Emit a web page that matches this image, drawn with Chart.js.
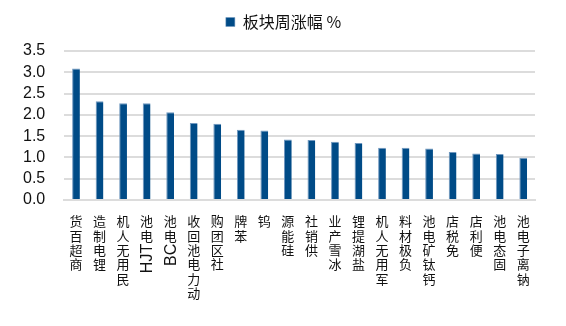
<!DOCTYPE html>
<html lang="zh">
<head>
<meta charset="UTF-8">
<title>板块周涨幅</title>
<script src="https://cdn.jsdelivr.net/npm/chart.js@4.4.1/dist/chart.umd.min.js"></script>
<style>
  html, body { margin: 0; padding: 0; background: #fff; }
  #wrap { width: 566px; height: 326px; }
</style>
</head>
<body>
<div id="wrap"><canvas id="chart" width="566" height="326"></canvas></div>
<script>
// weekly gain by sector, %
const categories = ['商超百货', '锂电制造', '民用无人机', 'HJT电池', 'BC电池', '动力电池回收', '社区团购', '苯牌', '钨', '硅能源',
                    '供销社', '冰雪产业', '盐湖提锂', '军用无人机', '负极材料', '钙钛矿电池', '免税店', '便利店', '固态电池', '钠离子电池'];
const weeklyGain = [3.09, 2.32, 2.27, 2.27, 2.06, 1.81, 1.79, 1.65, 1.63, 1.42,
                    1.41, 1.37, 1.34, 1.23, 1.23, 1.21, 1.13, 1.09, 1.08, 0.99];
const seriesName = '板块周涨幅 %';
const yMin = 0, yMax = 3.5, yStep = 0.5;

const NAVY = '#004b87';
const GRID = '#dcdcdc';

// extra room under the legend so the plot starts lower,
// and the legend centred on the whole canvas rather than the padded box
const legendGap = {
  id: 'legendGap',
  beforeInit(chart) {
    const fit = chart.legend.fit;
    chart.legend.fit = function () {
      fit.call(this);
      this.height += 11;
    };
  },
  afterLayout(chart) {
    chart.legend.left += 14;
    chart.legend.right += 14;
  }
};

// vertical category labels: CJK glyphs stay upright, latin runs are turned
// to read bottom-to-top, and the whole label hangs down from the axis
const verticalLabels = {
  id: 'verticalLabels',
  afterDraw(chart) {
    const ctx = chart.ctx;
    const xs = chart.scales.x;
    const top = chart.chartArea.bottom + 14;
    const cjkFont = '13px "Noto Sans CJK SC", sans-serif';
    const latinFont = '16px "Liberation Sans", Arial, sans-serif';
    const step = 14.4;
    ctx.save();
    ctx.fillStyle = '#111';
    categories.forEach((label, i) => {
      const x = xs.getPixelForValue(i);
      const runs = label.match(/[A-Za-z0-9]+|[^A-Za-z0-9]/g) || [];
      let y = top;
      for (let r = runs.length - 1; r >= 0; r--) {
        const run = runs[r];
        if (/^[A-Za-z0-9]+$/.test(run)) {
          ctx.font = latinFont;
          const w = ctx.measureText(run).width;
          ctx.save();
          ctx.translate(x + 1, y + w + 1);
          ctx.rotate(-Math.PI / 2);
          ctx.textAlign = 'left';
          ctx.textBaseline = 'middle';
          ctx.fillText(run, 0, 0);
          ctx.restore();
          y += w + 3;
        } else {
          ctx.font = cjkFont;
          ctx.textAlign = 'center';
          ctx.textBaseline = 'middle';
          ctx.fillText(run, x, y + step / 2);
          y += step;
        }
      }
    });
    ctx.restore();
  }
};

new Chart(document.getElementById('chart'), {
  type: 'bar',
  data: {
    labels: categories,
    datasets: [{
      label: seriesName,
      data: weeklyGain,
      backgroundColor: NAVY,
      borderColor: '#6f97bf',
      borderWidth: { top: 1, left: 1, right: 0, bottom: 0 },
      categoryPercentage: 1,
      barPercentage: 0.33
    }]
  },
  options: {
    responsive: false,
    animation: false,
    devicePixelRatio: 1,
    layout: { padding: { left: 4, right: 31, top: 4, bottom: 126 } },
    plugins: {
      legend: {
        position: 'top',
        labels: {
          boxWidth: 9,
          boxHeight: 9,
          padding: 10,
          color: '#111',
          font: { size: 16, family: '"Noto Sans CJK SC", sans-serif' }
        }
      },
      tooltip: { enabled: false }
    },
    scales: {
      x: {
        ticks: { display: false },
        grid: { display: false, drawTicks: false },
        border: { display: true, color: GRID, width: 2 }
      },
      y: {
        min: yMin,
        max: yMax,
        ticks: {
          stepSize: yStep,
          autoSkip: false,
          padding: 19,
          color: '#111',
          font: { size: 16, family: '"Liberation Sans", Arial, sans-serif' },
          callback: v => Number(v).toFixed(1)
        },
        grid: { color: GRID, lineWidth: 2, drawTicks: false },
        border: { display: false }
      }
    }
  },
  plugins: [legendGap, verticalLabels]
});
</script>
</body>
</html>
